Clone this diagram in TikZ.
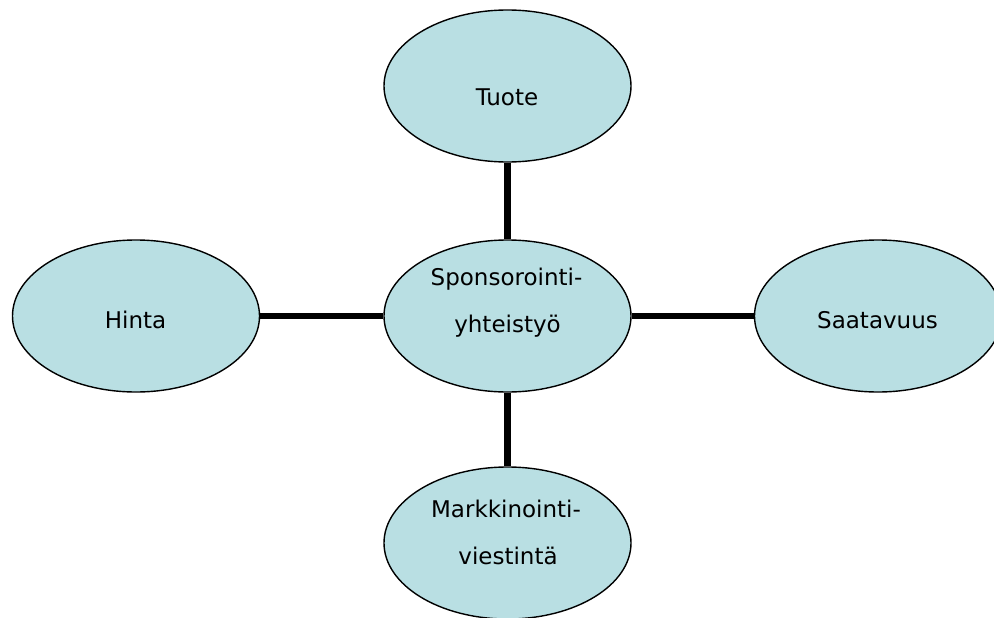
\documentclass[tikz,border=0pt]{standalone}
\usepackage{fontspec}
\setmainfont{DejaVu Sans}
\usetikzlibrary{shapes.geometric}
\definecolor{bubble}{HTML}{B9DFE3}
\tikzset{
  bubble/.style={ellipse, draw=black, line width=1.4pt, fill=bubble,
    minimum width=247pt, minimum height=152pt, inner sep=0pt},
  word/.style={anchor=base, inner sep=0pt,
    font=\fontsize{23}{28}\selectfont},
  link/.style={draw=black, line width=6.5pt}
}
\begin{document}
\begin{tikzpicture}[x=1pt, y=-1pt]
  \useasboundingbox (0,0) rectangle (994,618);

  % the five ellipses
  \node[bubble] (tuote) at (507.5,86) {};
  \node[bubble] (spons) at (507.5,316) {};
  \node[bubble] (hinta) at (136,316) {};
  \node[bubble] (saat)  at (878,316) {};
  \node[bubble] (mark)  at (507.5,543) {};

  % connectors between the centre and the four others
  \draw[link] (tuote.south) -- (spons.north);
  \draw[link] (spons.south) -- (mark.north);
  \draw[link] (hinta.east) -- (spons.west);
  \draw[link] (spons.east) -- (saat.west);

  % labels, placed by their baselines
  \node[word] (tTuote) at (507,106) {Tuote};
  \node[word] (tHinta) at (135.5,328) {Hinta};
  \node[word] (tSaat)  at (877.5,328) {Saatavuus};
  \node[word] (tSp1)   at (506.5,285) {Sponsorointi-};
  \node[word] (tSp2)   at (507.5,332) {yhteistyö};
  \node[word] (tMa1)   at (506,517) {Markkinointi-};
  \node[word] (tMa2)   at (508,564) {viestintä};
\end{tikzpicture}
\end{document}
